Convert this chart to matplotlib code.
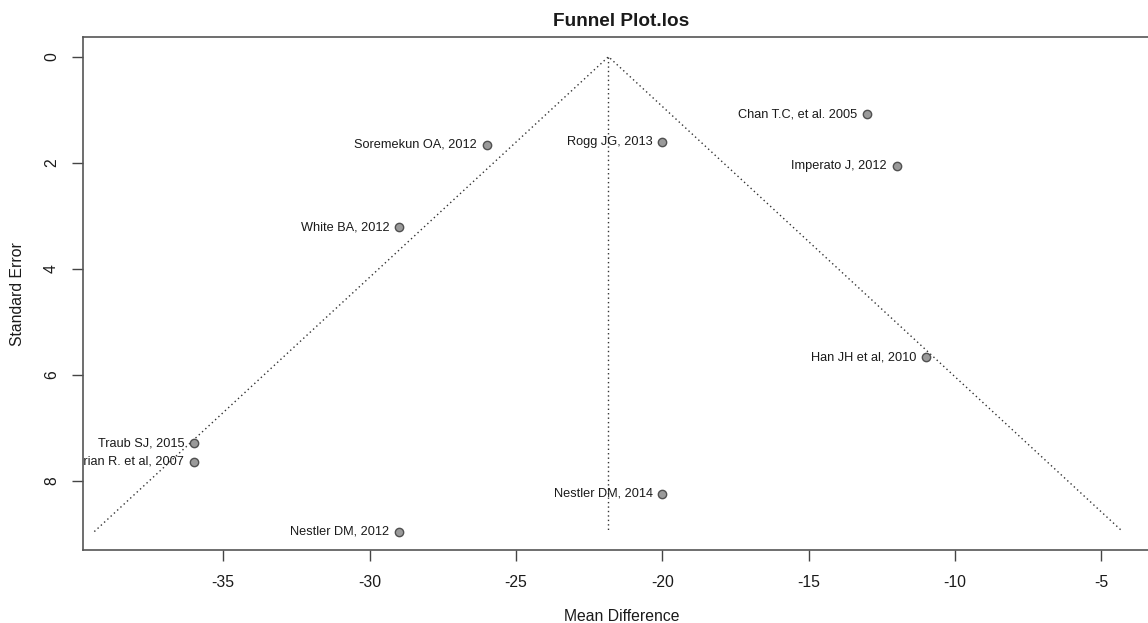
import matplotlib
matplotlib.use("Agg")
import matplotlib.pyplot as plt

plt.rcParams['font.family'] = ['Liberation Sans', 'DejaVu Sans']
plt.rcParams['axes.unicode_minus'] = False

# study labels, mean differences and standard errors
studies = ["Chan T.C, et al. 2005", "Imperato J, 2012", "Rogg JG, 2013",
           "Soremekun OA, 2012", "White BA, 2012", "Han JH et al, 2010",
           "Traub SJ, 2015", "Brian R. et al, 2007", "Nestler DM, 2014",
           "Nestler DM, 2012"]
mean_diff = [-13, -12, -20, -26, -29, -11, -36, -36, -20, -29]
std_err = [1.09, 2.06, 1.60, 1.66, 3.22, 5.67, 7.29, 7.64, 8.25, 8.96]

# pooled estimate from the meta-analysis
pooled = -21.84
se_max = max(std_err)

fig = plt.figure(figsize=(11.48, 6.23), dpi=100)
ax = fig.add_axes([0.072, 0.1164, 0.9385, 0.8242])

dot = (0, (1, 2.2))
ax.plot([pooled, pooled], [0, se_max], color='#333333', lw=1, linestyle=dot)
ax.plot([pooled - 1.96 * se_max, pooled, pooled + 1.96 * se_max],
        [se_max, 0, se_max], color='#333333', lw=1, linestyle=dot)

ax.scatter(mean_diff, std_err, s=36, facecolor='#9a9a9a', edgecolor='#505050',
           linewidths=1, zorder=3)
for name, x, y in zip(studies, mean_diff, std_err):
    ax.annotate(name, (x, y), xytext=(-7, 0), textcoords='offset points',
                ha='right', va='center', fontsize=9.2, color='#1a1a1a',
                annotation_clip=False, clip_on=True)

ax.set_xlim(-39.8, -3.0)
ax.set_ylim(9.317, -0.372)
ax.set_xticks([-35, -30, -25, -20, -15, -10, -5])
ax.set_yticks([0, 2, 4, 6, 8])
ax.tick_params(axis='both', direction='out', length=8, width=1,
               colors='#444444', labelcolor='#1a1a1a', labelsize=11.3)
ax.tick_params(axis='x', pad=10)
ax.tick_params(axis='y', pad=9)
for lab in ax.get_yticklabels():
    lab.set_rotation(90)
    lab.set_va('center')

for sp in ax.spines.values():
    sp.set_color('#555555')
    sp.set_linewidth(1.2)

ax.set_title("Funnel Plot.los", fontsize=13.7, fontweight='bold',
             color='#1a1a1a', x=0.5, pad=8)
ax.set_xlabel("Mean Difference", fontsize=11.3, color='#1a1a1a', labelpad=13)
ax.set_ylabel("Standard Error", fontsize=11.3, color='#1a1a1a', labelpad=14)

fig.savefig("out.png", dpi=100)
